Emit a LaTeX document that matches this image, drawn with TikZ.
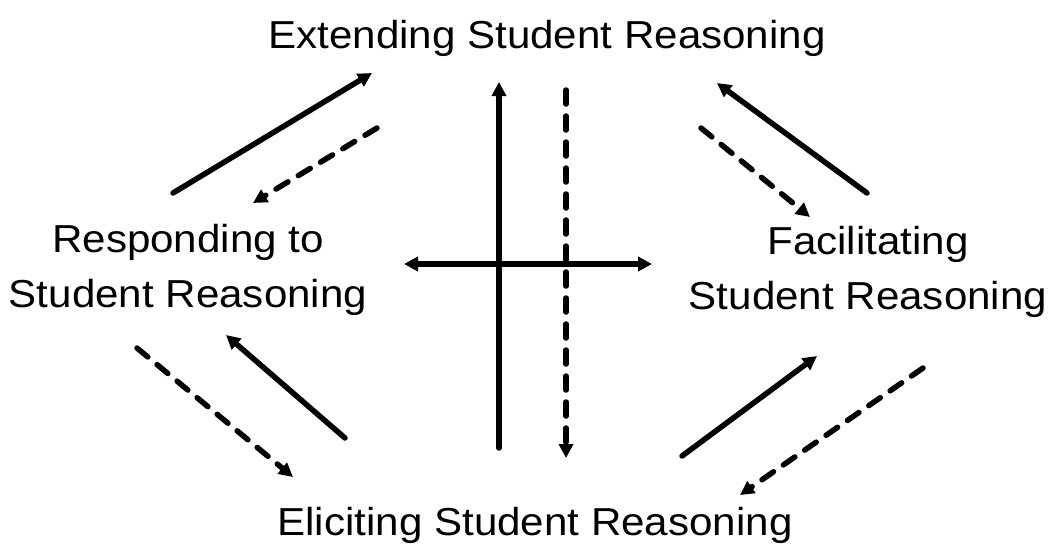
\documentclass[tikz,border=0pt]{standalone}
\usepackage{fontspec}
\setmainfont{Liberation Sans}[FakeStretch=1.08]
\usetikzlibrary{arrows.meta}
\begin{document}
\begin{tikzpicture}[x=1pt,y=-1pt,
  lbl/.style={font=\fontsize{39}{55}\selectfont, align=center, inner sep=0pt},
  tip/.style={-{Triangle[length=14pt,width=14pt]}},
  sol/.style={line width=5.5pt, line cap=round, tip},
  dsh/.style={line width=5.5pt, line cap=round, dash pattern=on 14pt off 12pt, tip},
  dbl/.style={line width=5.5pt, {Triangle[length=14pt,width=14pt]}-{Triangle[length=14pt,width=14pt]}}]
\useasboundingbox (0,0) rectangle (1056,547);
\node[lbl, anchor=base] (ext) at (547,48) {Extending Student Reasoning};
\node[lbl, anchor=base] (elic) at (535,535) {Eliciting Student Reasoning};
\node[lbl] (resp) at (188,270) {Responding to\\Student Reasoning};
\node[lbl] (fac) at (868,272) {Facilitating\\Student Reasoning};
% arrow end points
\coordinate (a1s) at (173,193); \coordinate (a1e) at (372,73);
\coordinate (a2s) at (377,128); \coordinate (a2e) at (253,203);
\coordinate (v1s) at (499,448); \coordinate (v1e) at (499,82);
\coordinate (v2s) at (566,90); \coordinate (v2e) at (566,458);
\coordinate (hL) at (404,264); \coordinate (hR) at (652,264);
\coordinate (a6s) at (867,193); \coordinate (a6e) at (717,83);
\coordinate (a7s) at (701,128); \coordinate (a7e) at (810,217);
\coordinate (a8s) at (137,348); \coordinate (a8e) at (293,477);
\coordinate (a9s) at (345,438); \coordinate (a9e) at (226,335);
\coordinate (a10s) at (682,456); \coordinate (a10e) at (817,356);
\coordinate (a11s) at (923,368); \coordinate (a11e) at (740,495);
\draw[sol] (a1s) -- (a1e);
\draw[dsh] (a2s) -- (a2e);
\draw[sol] (v1s) -- (v1e);
\draw[dsh] (v2s) -- (v2e);
\draw[dbl] (hL) -- (hR);
\draw[sol] (a6s) -- (a6e);
\draw[dsh] (a7s) -- (a7e);
\draw[dsh] (a8s) -- (a8e);
\draw[sol] (a9s) -- (a9e);
\draw[sol] (a10s) -- (a10e);
\draw[dsh] (a11s) -- (a11e);
\end{tikzpicture}
\end{document}
